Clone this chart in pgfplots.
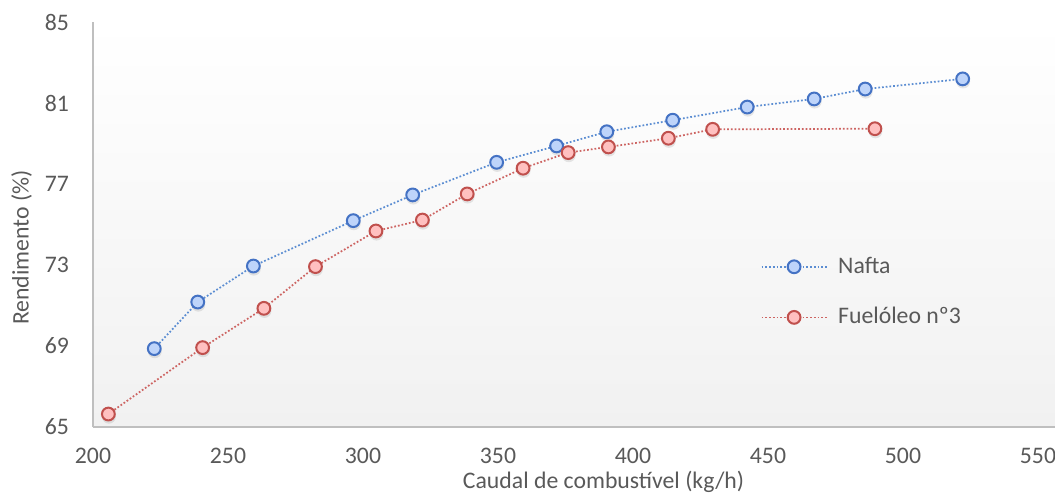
\documentclass[border=0pt]{standalone}
\usepackage{pgfplots}
\pgfplotsset{compat=1.18}
\usepackage{pgfplotstable}
\usepackage{fontspec}
\setmainfont{Carlito}

\definecolor{txt}{RGB}{89,89,89}
\definecolor{axl}{RGB}{191,191,191}
\definecolor{bline}{RGB}{91,141,210}
\definecolor{bedge}{RGB}{68,114,196}
\definecolor{bfill}{RGB}{190,212,250}
\definecolor{rline}{RGB}{205,100,98}
\definecolor{redge}{RGB}{192,80,77}
\definecolor{rfill}{RGB}{255,192,192}

\newcommand{\lbl}{\fontsize{17.8}{21.4}\selectfont}

% Rendimento vs. caudal de combustível
\pgfplotstableread{
x y
222.7 68.87
238.8 71.17
259.4 72.95
296.4 75.19
318.4 76.46
349.5 78.07
371.7 78.88
390.3 79.58
414.7 80.15
442.3 80.80
467.1 81.20
486.0 81.69
522.1 82.19
}\nafta

\pgfplotstableread{
x y
205.7 65.64
240.6 68.92
263.3 70.86
282.4 72.92
304.8 74.68
322.0 75.22
338.6 76.51
359.3 77.78
376.0 78.55
390.9 78.83
413.1 79.26
429.5 79.70
489.6 79.73
}\fuel

\begin{document}
\lbl
\begin{tikzpicture}
\begin{axis}[
  x=2.025pt, y=15.1875pt,
  xmin=200, xmax=556.3, ymin=65, ymax=85,
  xtick={200,250,...,550},
  ytick={65,69,...,85},
  axis x line*=bottom, axis y line*=left,
  axis line style={-, draw=axl, line width=1.1pt},
  major tick length=0pt,
  tick label style={text=txt, font=\lbl},
  /pgf/number format/assume math mode=true,
  yticklabel style={xshift=-12pt},
  xticklabel style={yshift=-10pt},
  axis background/.style={shade, top color=white, bottom color={rgb,255:red,241;green,241;blue,241}},
  xlabel={Caudal de combustível (kg/h)},
  xlabel style={at={(axis cs:389.1,62.30)}, anchor=center, text=txt, font=\lbl},
  ylabel={Rendimento (\%)},
  ylabel style={at={(axis cs:173.6,73.86)}, anchor=center, rotate=0, text=txt, font=\lbl},
  clip=false,
  legend style={draw=none, fill=none, at={(axis cs:447.2,71.66)}, anchor=west,
    inner sep=0pt, row sep=23pt, font=\lbl, text=txt,
    nodes={inner xsep=8pt, inner ysep=0pt}},
  legend cell align=left,
  legend image code/.code={%
    \draw[mark repeat=2, mark phase=2, #1] plot coordinates {(0pt,0pt) (24.4pt,0pt) (48.8pt,0pt)};},
]
% soft shadows under the markers
\addplot[forget plot, draw=none, only marks, mark=*, mark size=5.2pt,
  mark options={draw opacity=0, fill=black, fill opacity=0.09, yshift=-2pt, xshift=0.4pt}] table {\nafta};
\addplot[forget plot, draw=none, only marks, mark=*, mark size=5.2pt,
  mark options={draw opacity=0, fill=black, fill opacity=0.09, yshift=-2pt, xshift=0.4pt}] table {\fuel};

\addplot[color=bline, line width=1.3pt, dash pattern=on 1.3pt off 1.5pt,
  mark=*, mark size=4.8pt,
  mark options={solid, draw=bedge, fill=bfill, line width=1.5pt}] table {\nafta};
\addlegendentry{Nafta}
\addplot[color=rline, line width=1.3pt, dash pattern=on 1.3pt off 1.5pt,
  mark=*, mark size=4.8pt,
  mark options={solid, draw=redge, fill=rfill, line width=1.5pt}] table {\fuel};
\addlegendentry{Fuelóleo nº3}

\coordinate (bl) at (axis cs:165.56,61.654);
\coordinate (tr) at (axis cs:556.3,86.086);
\end{axis}
\pgfresetboundingbox
\useasboundingbox (bl) rectangle (tr);
\end{tikzpicture}
\end{document}
